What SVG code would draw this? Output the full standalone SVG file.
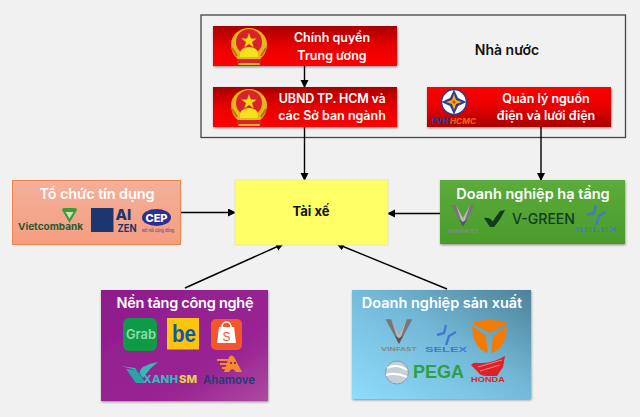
<svg xmlns="http://www.w3.org/2000/svg" width="640" height="417" viewBox="0 0 640 417">
<style>
text{font-family:"Inter","Liberation Sans",sans-serif;text-anchor:middle}
.w{fill:#fff;font-weight:600;font-size:12.5px}
.h{fill:#fff;font-weight:600;font-size:14.5px}
.b{fill:#111;font-weight:700;font-size:13px}
.l{font-family:"Liberation Sans",sans-serif}
.c{stroke:#000;stroke-width:1.4;fill:none;marker-end:url(#a)}
.s{filter:url(#sh)}
</style>
<defs>
<marker id="a" markerWidth="9" markerHeight="9" refX="7" refY="4" orient="auto" markerUnits="userSpaceOnUse"><path d="M0 0L8 4L0 8Z" fill="#000"/></marker>
<filter id="sh" x="-5%" y="-5%" width="110%" height="115%"><feDropShadow dx="0.5" dy="1.2" stdDeviation="1" flood-color="#000" flood-opacity=".4"/></filter>
<linearGradient id="rd" x1="0" y1="0" x2="0" y2="1"><stop offset="0" stop-color="#a80000"/><stop offset=".5" stop-color="#e80000"/><stop offset="1" stop-color="#ff0000"/></linearGradient>
<linearGradient id="ru" x1="0" y1="0" x2="0" y2="1"><stop offset="0" stop-color="#ff0000"/><stop offset=".5" stop-color="#e80000"/><stop offset="1" stop-color="#a80000"/></linearGradient>
<linearGradient id="sal" x1="0" y1="0" x2="0" y2="1"><stop offset="0" stop-color="#f4b09a"/><stop offset="1" stop-color="#f59d80"/></linearGradient>
<linearGradient id="gr" x1="0" y1="0" x2="0" y2="1"><stop offset="0" stop-color="#5cab3c"/><stop offset="1" stop-color="#4a9c2a"/></linearGradient>
<linearGradient id="pu" x1="0" y1="0" x2="1" y2="1"><stop offset="0" stop-color="#8e1c8c"/><stop offset=".7" stop-color="#9a2594"/><stop offset="1" stop-color="#ad4aa0"/></linearGradient>
<linearGradient id="bl" x1="0" y1="1" x2="1" y2="0"><stop offset="0" stop-color="#8fdcfc"/><stop offset=".55" stop-color="#72b8d6"/><stop offset="1" stop-color="#4d8198"/></linearGradient>
<g id="emblem">
<path d="M-18-2a18 16 0 0 1 36 0c0 8-4 13-8 16l1 5h-22l1-5c-4-3-8-8-8-16z" fill="#e9b61a"/>
<circle cx="0" cy="-4" r="13" fill="#d8232a"/>
<path d="M0-13l1.900 5.500h5.800l-4.700 3.400 1.800 5.500L0-2-4.800 1.400l1.800-5.500-4.700-3.400h5.800z" fill="#f6d60e"/>
<path d="M-9 7a9 6 0 0 1 18 0v4h-18z" fill="#f6e21a"/>
<path d="M-17 2l5 8M17 2l-5 8" stroke="#b5760c" stroke-width="2" fill="none"/>
<rect x="-12" y="13" width="24" height="4" fill="#d8232a"/>
</g>
<g id="vf">
<path d="M-12-14L0 8 12-14 7-14 0-1-7-14Z" fill="#77777b"/>
<path d="M-7-14L0-1 7-14 3-2 0 8-3-2Z" fill="#b9b9bc"/>
<path d="M-4 0L0 8 4 0 0 3Z" fill="#55555a"/>
<text y="14" textLength="32" lengthAdjust="spacingAndGlyphs" style="font-size:4.500px;font-weight:700" fill="#888">VINFAST</text>
</g>
<g id="sx">
<path d="M0-10L-2-2L-9 0M10-3L3 1L0 10" fill="none" stroke="#4478d0" stroke-width="2.400"/>
<text y="17" class="l" textLength="42" lengthAdjust="spacingAndGlyphs" style="font-size:6.500px;font-weight:700" fill="#4478d0">SELEX</text>
</g>
</defs>

<rect width="640" height="417" fill="#f1f1f1"/>

<g id="nha-nuoc">
<rect x="201" y="15" width="424.500" height="122.500" fill="#f1f1f1" stroke="#444" stroke-width="1.300"/>
<text x="507" y="55" style="fill:#111;font-weight:600;font-size:14px">Nhà nước</text>
</g>

<g id="connectors">
<path class="c" d="M304.500 66V87"/>
<path class="c" d="M304.500 127V180"/>
<path class="c" d="M541 127V180"/>
<path class="c" d="M181 212.500H235"/>
<path class="c" d="M440 213.500H388"/>
<path class="c" d="M185 288L283 244"/>
<path class="c" d="M447 289L337 244"/>
</g>

<g id="chinh-quyen">
<rect class="s" x="213" y="26" width="184" height="40" fill="url(#rd)"/>
<use href="#emblem" x="249" y="46"/>
<text class="w" x="332" y="42.300">Chính quyền</text>
<text class="w" x="332" y="59.500">Trung ương</text>
</g>

<g id="ubnd">
<rect class="s" x="213" y="87" width="184" height="40" fill="url(#rd)"/>
<use href="#emblem" x="249" y="107"/>
<text class="w" x="332.300" y="103" textLength="107">UBND TP. HCM và</text>
<text class="w" x="332" y="120">các Sở ban ngành</text>
</g>

<g id="evn">
<rect class="s" x="427" y="87" width="184" height="40" fill="url(#ru)"/>
<circle cx="454" cy="102" r="12.500" fill="#fff" stroke="#2f3a8f" stroke-width="1.500"/>
<path d="M454 89.500L458 98 466.500 102 458 106 454 114.500 450 106 441.500 102 450 98Z" fill="#2f3a8f"/>
<path d="M454 94L456 100 462 102 456 104 454 110 452 104 446 102 452 100Z" fill="#f6b010"/>
<circle cx="454" cy="102" r="1.500" fill="#e2301a"/>
<text x="440.500" y="123.500" textLength="17" lengthAdjust="spacingAndGlyphs" style="font-size:7.500px;font-weight:800" fill="#2f3a9f">EVN</text>
<text x="463" y="123.500" textLength="26" lengthAdjust="spacingAndGlyphs" style="font-size:7.500px;font-weight:800;font-style:italic" fill="#e8601a">HCMC</text>
<text class="w" x="546" y="103">Quản lý nguồn</text>
<text class="w" x="546" y="120">điện và lưới điện</text>
</g>

<g id="tin-dung">
<rect x="12.500" y="180.500" width="168" height="64" fill="url(#sal)" stroke="#ee8250" stroke-width="1"/>
<text class="h" x="97" y="199" textLength="115">Tổ chức tín dụng</text>
<path d="M62 210Q62 208 64 208H75Q77 208 77 210L69.500 223Z" fill="#3f9a3a"/>
<path d="M65.500 212H73.500L69.500 218.500Z" fill="#cfe3b8"/>
<text x="50.500" y="230" textLength="65" lengthAdjust="spacingAndGlyphs" style="font-size:9.500px;font-weight:700" fill="#1d5c30">Vietcombank</text>
<rect x="91" y="208" width="22.500" height="24" fill="#1c3770"/>
<text x="123.500" y="220" style="font-size:15px;font-weight:800" fill="#1c3770">AI</text>
<text x="127" y="232" textLength="19" lengthAdjust="spacingAndGlyphs" style="font-size:10.500px;font-weight:700" fill="#1c3770">ZEN</text>
<ellipse cx="156.500" cy="217.500" rx="14.500" ry="8.500" fill="#2b2f92"/>
<text x="156.500" y="221.500" style="font-size:11px;font-weight:800" fill="#fff">CEP</text>
<text x="158" y="232" textLength="32" lengthAdjust="spacingAndGlyphs" style="font-size:4px" fill="#2b2f92">kết nối cộng đồng</text>
</g>

<g id="tai-xe">
<rect x="235" y="180" width="153" height="65" fill="#ffff66" stroke="#e6e6a0" stroke-width=".8"/>
<text class="b" x="311" y="216">Tài xế</text>
</g>

<g id="ha-tang">
<rect class="s" x="440" y="180" width="185" height="64" fill="url(#gr)"/>
<text class="h" x="533" y="199">Doanh nghiệp hạ tầng</text>
<use href="#vf" x="463" y="219"/>
<path d="M484 218L490 227 494 227Q501 219 505 210Q497 213 493 222Q490 217 484 218Z" fill="#123d1d"/>
<path d="M494 227L505 210 500 211 491 224Z" fill="#123d1d"/>
<text x="543.500" y="224" textLength="63" lengthAdjust="spacingAndGlyphs" style="font-size:14.500px;font-weight:500" fill="#123d1d">V-GREEN</text>
<use href="#sx" x="596" y="215"/>
</g>

<g id="nen-tang">
<rect class="s" x="101" y="290" width="167" height="111" fill="url(#pu)"/>
<text class="h" x="185" y="308" textLength="137">Nền tảng công nghệ</text>
<rect x="123" y="318" width="34" height="33" rx="6" fill="#0e9a47"/>
<text x="141" y="339" textLength="30" lengthAdjust="spacingAndGlyphs" style="font-size:13px;font-weight:600" fill="#8fdca7">Grab</text>
<rect x="167" y="318" width="32" height="31.500" fill="#fdc40f"/>
<text x="184" y="342" class="l" textLength="24" lengthAdjust="spacingAndGlyphs" style="font-size:24px;font-weight:700" fill="#0f57a8">be</text>
<rect x="211" y="319" width="31" height="31" rx="5" fill="#f5552b"/>
<path d="M219 327H234L236 343H217Z" fill="#fff"/>
<path d="M222 327a4.500 5 0 0 1 9 0" fill="none" stroke="#fff" stroke-width="1.500"/>
<text x="226.500" y="341" class="l" style="font-size:12px" fill="#f5552b">S</text>
<path d="M121 366L135 368 143 378 150 369 158 362Q150 363 143 367 138 371 141 374L136 370Z" fill="#3ab6b4"/>
<path d="M126 369L136 370 146 383H136Z" fill="#2aa3a4"/>
<text x="160.500" y="383" textLength="35" lengthAdjust="spacingAndGlyphs" style="font-size:11px;font-weight:800" fill="#36b8bc">XANH</text>
<text x="188" y="383" textLength="18" lengthAdjust="spacingAndGlyphs" style="font-size:11px;font-weight:800" fill="#e9d24d">SM</text>
<path d="M224 372L229 357Q231.500 354 234 357L242 372H236Q232 366 229 372Z" fill="#f58b2a"/>
<path d="M217 360H228M220 364H227M222 368H226" stroke="#f58b2a" stroke-width="2" fill="none"/>
<circle cx="231" cy="363" r="1" fill="#4a2a70"/><circle cx="235" cy="363" r="1" fill="#4a2a70"/>
<text x="229" y="384" textLength="52" lengthAdjust="spacingAndGlyphs" style="font-size:11.500px;font-weight:600" fill="#1f3c78">Ahamove</text>
</g>

<g id="san-xuat">
<rect class="s" x="352" y="290" width="179" height="109" fill="url(#bl)"/>
<text class="h" x="442" y="308">Doanh nghiệp sản xuất</text>
<use href="#vf" transform="translate(399 335) scale(1.120)"/>
<use href="#sx" x="446" y="335"/>
<path d="M472 326Q480 331 486 336L488 353Q473 349 472 326Z" fill="#f57a00"/>
<path d="M507 326Q499 331 493 336L491 353Q506 349 507 326Z" fill="#f57a00"/>
<path d="M474 322Q489 318 505 322L505 325Q497 328 489.500 333 482 328 474 325Z" fill="#f57a00"/>
<circle cx="397" cy="372.500" r="11.500" fill="#c3d0d8" stroke="#8a9ba5"/>
<path d="M387 368q10-5 20 2M386 375q10-3 21 2" fill="none" stroke="#fff" stroke-width="2"/>
<text x="438.500" y="378" class="l" textLength="51" lengthAdjust="spacingAndGlyphs" style="font-size:18.500px;font-weight:700" fill="#2f9e44">PEGA</text>
<path d="M505 356L503 367 497 376H487Q480 376 478 372L471 365Q473 362 478 363 492 364 505 356Z" fill="#e01f26"/>
<path d="M478 367L502 360M480 371L500 365" stroke="#f7b6b8" stroke-width=".7"/>
<text x="488" y="382" class="l" textLength="34" lengthAdjust="spacingAndGlyphs" style="font-size:7px;font-weight:700" fill="#e01f26">HONDA</text>
</g>
</svg>
